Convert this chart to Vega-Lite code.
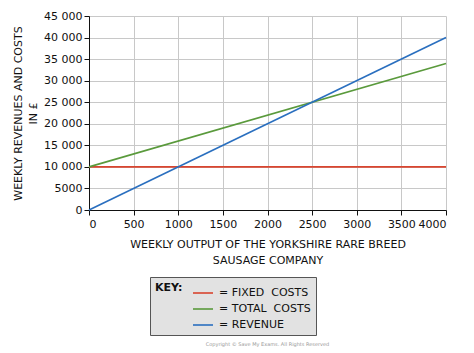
{
  "$schema": "https://vega.github.io/schema/vega-lite/v6.json",
  "autosize": {"type": "none"},
  "width": 357,
  "height": 194,
  "padding": {"left": 89, "top": 16, "right": 28, "bottom": 143},
  "background": "white",
  "config": {
    "font": "DejaVu Sans",
    "view": {"stroke": null},
    "axis": {"labelFont": "DejaVu Sans", "titleFont": "DejaVu Sans"},
    "legend": {"labelFont": "DejaVu Sans", "titleFont": "DejaVu Sans"}
  },
  "title": {
    "text": "Copyright © Save My Exams. All Rights Reserved",
    "orient": "bottom",
    "fontSize": 5,
    "fontWeight": "normal",
    "color": "#999999",
    "offset": 6
  },
  "data": {
    "values": [
      {"output": 0, "value": 10000, "series": "= FIXED\u00a0 COSTS"},
      {"output": 4000, "value": 10000, "series": "= FIXED\u00a0 COSTS"},
      {"output": 0, "value": 10000, "series": "= TOTAL\u00a0 COSTS"},
      {"output": 4000, "value": 34000, "series": "= TOTAL\u00a0 COSTS"},
      {"output": 0, "value": 0, "series": "= REVENUE"},
      {"output": 4000, "value": 40000, "series": "= REVENUE"}
    ]
  },
  "mark": {"type": "line", "strokeWidth": 1.6},
  "encoding": {
    "x": {
      "field": "output",
      "type": "quantitative",
      "scale": {"domain": [0, 4000], "nice": false},
      "axis": {
        "values": [0, 500, 1000, 1500, 2000, 2500, 3000, 3500, 4000],
        "format": "d",
        "title": ["WEEKLY OUTPUT OF THE YORKSHIRE RARE BREED", "SAUSAGE COMPANY"],
        "titleFontSize": 11,
        "titleLineHeight": 16,
        "titleFontWeight": "normal",
        "titleColor": "#111111",
        "titlePadding": 9,
        "labelFontSize": 11,
        "labelColor": "#111111",
        "labelPadding": 3,
        "domainColor": "#111111",
        "tickColor": "#111111",
        "tickSize": 5,
        "gridColor": "#c8c8c8",
        "gridWidth": 1
      }
    },
    "y": {
      "field": "value",
      "type": "quantitative",
      "scale": {"domain": [0, 45000], "nice": false},
      "axis": {
        "values": [0, 5000, 10000, 15000, 20000, 25000, 30000, 35000, 40000, 45000],
        "labelExpr": "datum.value >= 10000 ? replace(format(datum.value, ','), ',', ' ') : format(datum.value, 'd')",
        "title": ["WEEKLY REVENUES AND COSTS", "IN £"],
        "titleFontSize": 11,
        "titleLineHeight": 15,
        "titleFontWeight": "normal",
        "titleColor": "#111111",
        "titlePadding": 5,
        "labelFontSize": 11,
        "labelColor": "#111111",
        "labelPadding": 2,
        "domainColor": "#111111",
        "tickColor": "#111111",
        "tickSize": 5,
        "gridColor": "#c8c8c8",
        "gridWidth": 1
      }
    },
    "color": {
      "field": "series",
      "type": "nominal",
      "sort": ["= FIXED\u00a0 COSTS", "= TOTAL\u00a0 COSTS", "= REVENUE"],
      "scale": {
        "domain": ["= FIXED\u00a0 COSTS", "= TOTAL\u00a0 COSTS", "= REVENUE"],
        "range": ["#d9452f", "#5a9a3c", "#2a6fbf"]
      },
      "legend": {
        "orient": "none",
        "legendX": 61,
        "legendY": 261,
        "direction": "vertical",
        "title": "KEY:",
        "titleOrient": "left",
        "titleFontSize": 11,
        "titleFontWeight": "bold",
        "titleColor": "#111111",
        "titleAnchor": "start",
        "titlePadding": 9,
        "labelFontSize": 11,
        "labelColor": "#111111",
        "labelOffset": 5,
        "symbolType": "stroke",
        "symbolStrokeWidth": 1.6,
        "symbolSize": 400,
        "rowPadding": 0,
        "fillColor": "#e2e2e2",
        "strokeColor": "#555555",
        "padding": 5
      }
    }
  }
}
